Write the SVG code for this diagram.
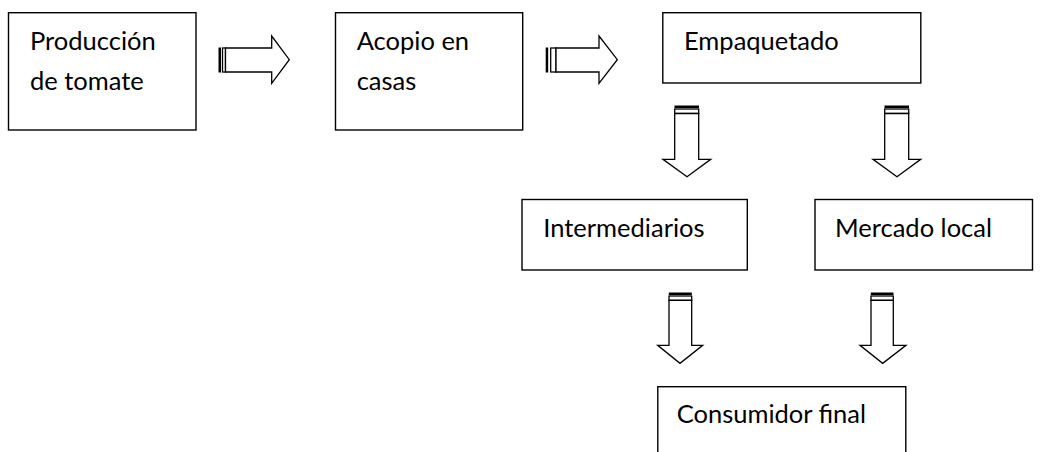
<svg xmlns="http://www.w3.org/2000/svg" width="1053" height="452" viewBox="0 0 1053 452">
<style>
.box{fill:#fff;stroke:#000;stroke-width:1.4}
.lbl{font-family:Lato,"Liberation Sans",sans-serif;font-size:25.5px;fill:#000}
.arr{fill:#fff;stroke:#000;stroke-width:1.3;stroke-linejoin:miter}
.bar{fill:#000}
</style>
<rect width="1053" height="452" fill="#fff"/>
<g id="connectors">
  <g id="arrow-prod-acopio">
    <rect class="bar" x="218.5" y="47.5" width="2.5" height="25"/>
    <rect class="arr" x="222.5" y="48" width="3" height="24"/>
    <polygon class="arr" points="225.5,48 271.7,48 271.7,36 289.3,59.7 271.7,83.3 271.7,72 225.5,72"/>
  </g>
  <g id="arrow-acopio-empaq">
    <rect class="bar" x="545.7" y="47.5" width="2.5" height="25"/>
    <rect class="arr" x="550.7" y="48" width="5.3" height="24"/>
    <polygon class="arr" points="556,48 599,48 599,36 617.3,59.7 599,83.3 599,72 556,72"/>
  </g>
  <g id="arrow-empaq-inter">
    <rect class="bar" x="674.5" y="105.5" width="24.5" height="2.5"/>
    <rect class="arr" x="674.7" y="109" width="24" height="4.5"/>
    <polygon class="arr" points="674.7,113.5 698.7,113.5 698.7,159.3 710.7,159.3 687,176.7 663,159.3 674.7,159.3"/>
  </g>
  <g id="arrow-empaq-mercado">
    <rect class="bar" x="884.5" y="105.5" width="24.5" height="2.5"/>
    <rect class="arr" x="884.7" y="109" width="24" height="4.5"/>
    <polygon class="arr" points="884.7,113.5 908.7,113.5 908.7,159.3 920.7,159.3 897,176.7 873,159.3 884.7,159.3"/>
  </g>
  <g id="arrow-inter-consum">
    <rect class="bar" x="668.8" y="292.5" width="23" height="2.5"/>
    <rect class="arr" x="669" y="296" width="22.7" height="4.3"/>
    <polygon class="arr" points="669,300.3 691.7,300.3 691.7,345.3 702.7,345.3 680,363.3 657.7,345.3 669,345.3"/>
  </g>
  <g id="arrow-mercado-consum">
    <rect class="bar" x="870.8" y="292.5" width="22.7" height="2.5"/>
    <rect class="arr" x="871" y="296" width="22.3" height="4.3"/>
    <polygon class="arr" points="871,300.3 893.3,300.3 893.3,345.3 906,345.3 882.7,363.3 860,345.3 871,345.3"/>
  </g>
</g>
<g id="node-produccion">
  <rect class="box" x="8.5" y="12.7" width="187.5" height="117.3"/>
  <text class="lbl" x="30" y="50">Producción</text>
  <text class="lbl" x="30" y="90">de tomate</text>
</g>
<g id="node-acopio">
  <rect class="box" x="335.5" y="12.7" width="187.2" height="117.3"/>
  <text class="lbl" x="356.7" y="50">Acopio en</text>
  <text class="lbl" x="356.7" y="90">casas</text>
</g>
<g id="node-empaquetado">
  <rect class="box" x="662.8" y="12.7" width="258" height="70.3"/>
  <text class="lbl" x="684" y="50">Empaquetado</text>
</g>
<g id="node-intermediarios">
  <rect class="box" x="522" y="199.5" width="225.3" height="70.5"/>
  <text class="lbl" x="543.3" y="236.7">Intermediarios</text>
</g>
<g id="node-mercado">
  <rect class="box" x="815" y="199.5" width="217.5" height="70.5"/>
  <text class="lbl" x="835" y="236.7">Mercado local</text>
</g>
<g id="node-consumidor">
  <rect class="box" x="657.8" y="386.7" width="248" height="80"/>
  <text class="lbl" x="676.7" y="423.3">Consumidor final</text>
</g>
</svg>
